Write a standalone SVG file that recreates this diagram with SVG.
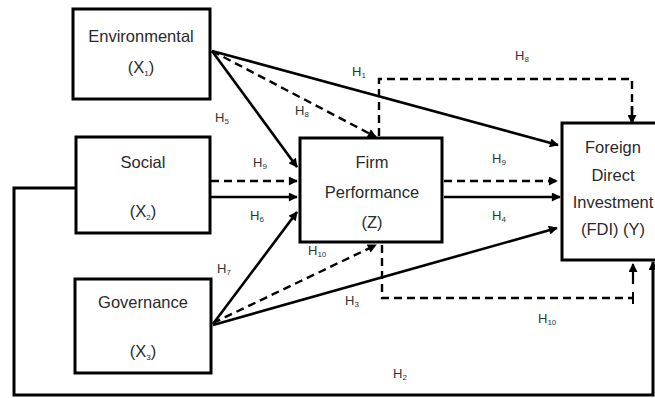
<svg xmlns="http://www.w3.org/2000/svg" width="655" height="398" viewBox="0 0 655 398">
<style>
.box{fill:#fff;stroke:#000;stroke-width:3}
.t{font-family:"Liberation Sans",Arial,sans-serif;font-size:16.5px;fill:#2a2a2a;text-anchor:middle}
.h{font-family:"Liberation Sans",Arial,sans-serif;font-size:13px;fill:#333}
.s{font-size:8px}
.ln{fill:none;stroke:#000;stroke-width:2.6}
.ds{fill:none;stroke:#000;stroke-width:2.4;stroke-dasharray:8 5}
</style>
<defs>
<marker id="ah" viewBox="0 0 10 10" refX="9" refY="5" markerWidth="11" markerHeight="9" markerUnits="userSpaceOnUse" orient="auto">
<path d="M0,0 L10,5 L0,10 z" fill="#000"/>
</marker>
</defs>
<g id="connectors">
<path class="ln" d="M212,51 L558,145" marker-end="url(#ah)"/>
<path class="ln" d="M212,51 L297,167" marker-end="url(#ah)"/>
<path class="ds" d="M212,51 L376,137" marker-end="url(#ah)"/>
<path class="ds" d="M379,136 L379,79 L632,79 L632,110"/>
<path class="ln" d="M632,106 L632,123" marker-end="url(#ah)"/>
<path class="ds" d="M211,181 L297,181" marker-end="url(#ah)"/>
<path class="ln" d="M211,197 L297,197" marker-end="url(#ah)"/>
<path class="ds" d="M444,181 L557,181" marker-end="url(#ah)"/>
<path class="ln" d="M444,197 L560,197" marker-end="url(#ah)"/>
<path class="ln" d="M213,324 L297,212" marker-end="url(#ah)"/>
<path class="ds" d="M213,323 L376,245" marker-end="url(#ah)"/>
<path class="ln" d="M213,325 L557,228" marker-end="url(#ah)"/>
<path class="ds" d="M382,245 L382,298 L633,298"/>
<path class="ln" d="M633,292 L633,304" style="stroke-width:2"/>
<path class="ln" d="M633,284 L633,264" marker-end="url(#ah)" style="stroke-width:2.2"/>
<path class="ln" d="M76,188 L14,188 L14,395 L653,395 L653,262" marker-end="url(#ah)" style="stroke-width:3"/>
</g>
<g id="environmental">
<rect class="box" x="73" y="9" width="137" height="90"/>
<text class="t" x="141" y="42">Environmental</text>
<text class="t" x="141" y="73">(X<tspan class="s" dy="3">1</tspan><tspan dy="-3">)</tspan></text>
</g>
<g id="social">
<rect class="box" x="76" y="137" width="134" height="96"/>
<text class="t" x="143" y="168">Social</text>
<text class="t" x="143" y="217">(X<tspan class="s" dy="3">2</tspan><tspan dy="-3">)</tspan></text>
</g>
<g id="governance">
<rect class="box" x="75" y="279" width="136" height="94"/>
<text class="t" x="143" y="308">Governance</text>
<text class="t" x="143" y="357">(X<tspan class="s" dy="3">3</tspan><tspan dy="-3">)</tspan></text>
</g>
<g id="firm">
<rect class="box" x="300" y="138" width="142" height="104"/>
<text class="t" x="372" y="168">Firm</text>
<text class="t" x="372" y="198">Performance</text>
<text class="t" x="372" y="228">(Z)</text>
</g>
<g id="fdi">
<rect class="box" x="562" y="123" width="96" height="137"/>
<text class="t" x="613" y="153">Foreign</text>
<text class="t" x="613" y="181">Direct</text>
<text class="t" x="613" y="208">Investment</text>
<text class="t" x="613" y="235">(FDI) (Y)</text>
</g>
<g id="labels">
<text class="h" x="352" y="76">H<tspan class="s" dy="2">1</tspan></text>
<text class="h" x="515" y="60">H<tspan class="s" dy="2">8</tspan></text>
<text class="h" x="215" y="122">H<tspan class="s" dy="2">5</tspan></text>
<text class="h" x="295" y="115">H<tspan class="s" dy="2">8</tspan></text>
<text class="h" x="253" y="167">H<tspan class="s" dy="2">9</tspan></text>
<text class="h" x="492" y="163">H<tspan class="s" dy="2">9</tspan></text>
<text class="h" x="250" y="220">H<tspan class="s" dy="2">6</tspan></text>
<text class="h" x="492" y="220">H<tspan class="s" dy="2">4</tspan></text>
<text class="h" x="217" y="273">H<tspan class="s" dy="2">7</tspan></text>
<text class="h" x="308" y="255">H<tspan class="s" dy="2">10</tspan></text>
<text class="h" x="345" y="305">H<tspan class="s" dy="2">3</tspan></text>
<text class="h" x="538" y="323">H<tspan class="s" dy="2">10</tspan></text>
<text class="h" x="393" y="378">H<tspan class="s" dy="2">2</tspan></text>
</g>
</svg>
